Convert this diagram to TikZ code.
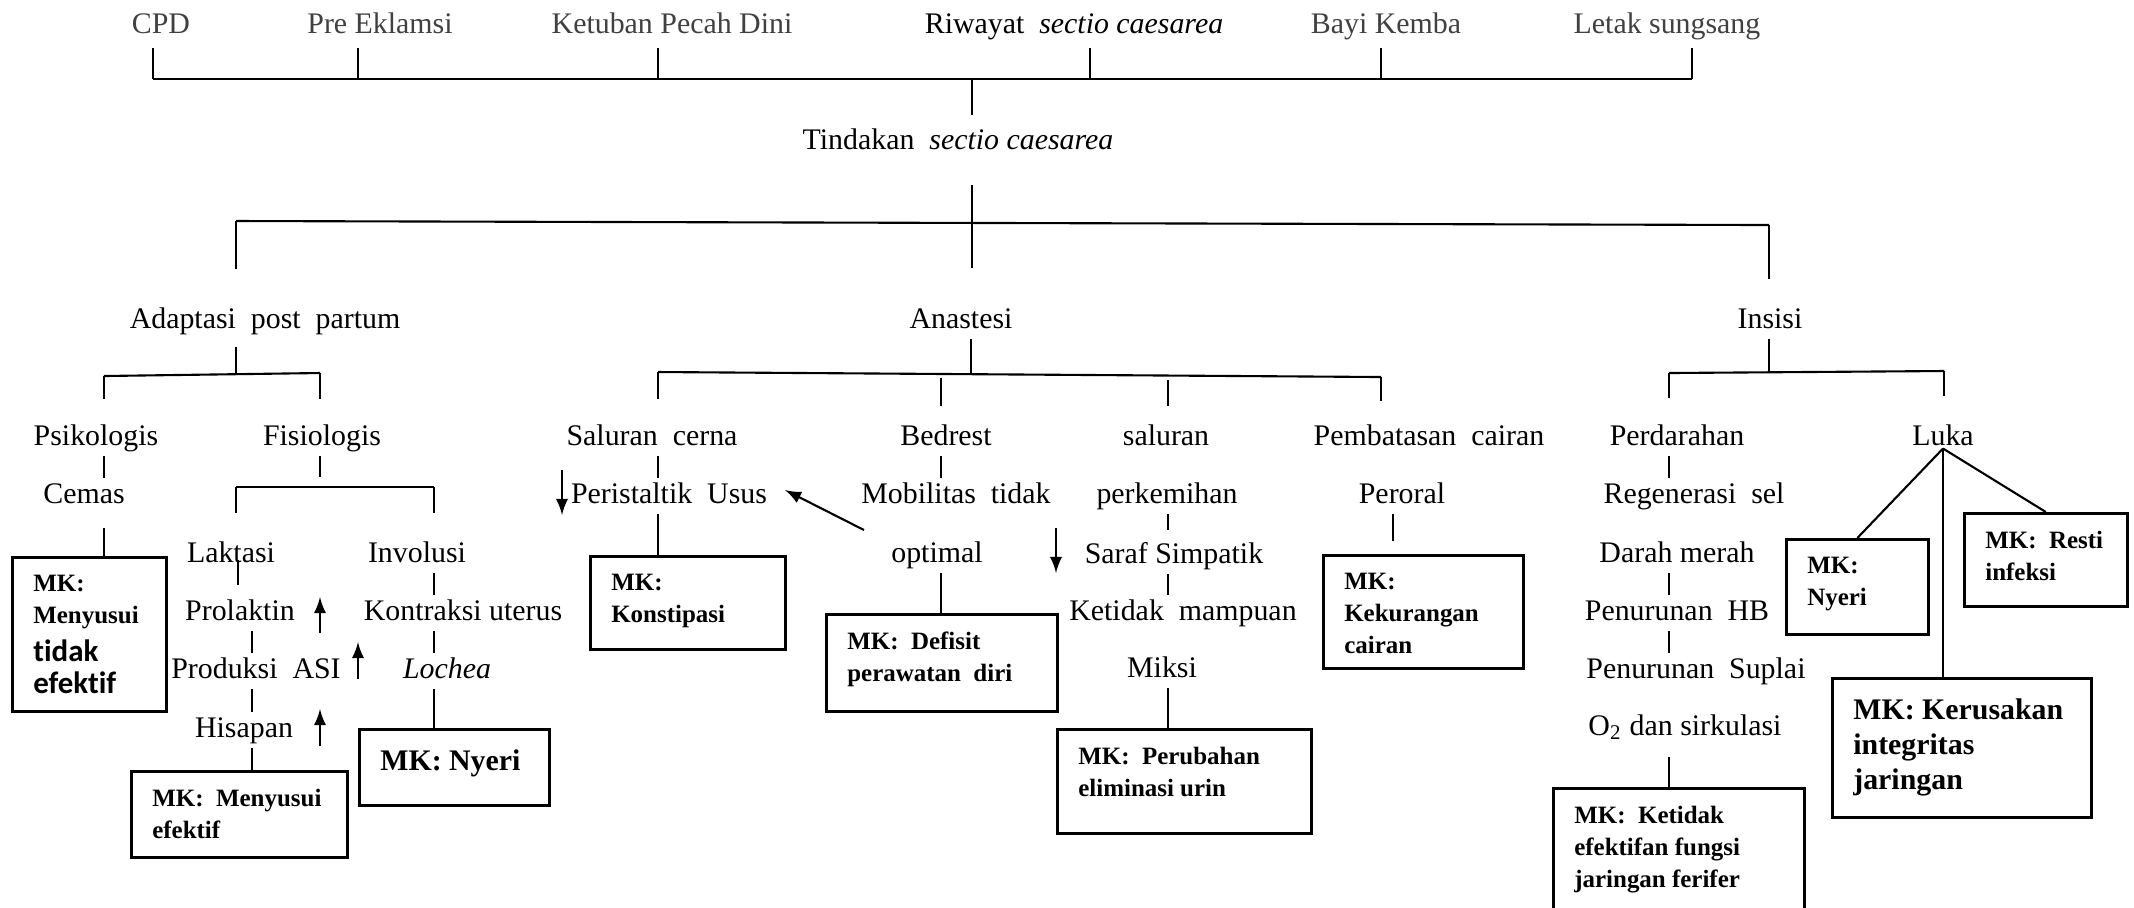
\documentclass[tikz,border=0pt]{standalone}
\usepackage{fontspec}
\setmainfont{Liberation Serif}
\newfontfamily\calfont{Carlito}[Ligatures=NoCommon]
\usepackage{tikz}
\tikzset{>=latex}
\usepackage{xcolor}
\colorlet{topcol}{black!75}
\tikzstyle{lbl}=[inner sep=1pt,text height=6pt,text depth=2pt,anchor=base,font=\fontsize{8.5}{10}\selectfont]
\tikzstyle{mk}=[draw,line width=0.75pt,inner xsep=2.1mm,inner ysep=1.8mm,anchor=north west,font=\fontsize{7.1}{9.1}\selectfont\bfseries]
\tikzstyle{mkbig}=[mk,inner ysep=2mm,font=\fontsize{8.5}{10}\selectfont\bfseries]
\tikzstyle{link}=[line width=0.6pt]
\tikzstyle{arr}=[->,line width=0.6pt]
\newcommand{\mktext}[3]{\parbox[t][#2][t]{#1}{#3}}

\begin{document}
\begin{tikzpicture}[x=0.1mm,y=-0.1mm]
  \path[use as bounding box] (0,0) rectangle (2134,907);
  \clip (0,0) rectangle (2134,907);

  % penyebab
  \node[lbl,topcol] (cpd) at (161,33) {CPD};
  \node[lbl,topcol] (pre) at (380,33) {Pre Eklamsi};
  \node[lbl,topcol] (kpd) at (672,33) {Ketuban Pecah Dini};
  \node[lbl] (riw) at (1074,33) {Riwayat~~\textit{sectio caesarea}};
  \node[lbl,topcol] (bayi) at (1386,33) {Bayi Kemba};
  \node[lbl,topcol] (letak) at (1667,33) {Letak sungsang};
  \coordinate (t1) at (153,79);
  \coordinate (t2) at (358,79);
  \coordinate (t3) at (658,79);
  \coordinate (t4) at (1090,79);
  \coordinate (t5) at (1381,79);
  \coordinate (t6) at (1692,79);
  \coordinate (t0) at (972,79);
  \draw[link] (t1) -- (t6);
  \foreach \tk/\nd in {t1/cpd,t2/pre,t3/kpd,t4/riw,t5/bayi,t6/letak}
    \draw[link,shorten <=0.4mm] (\tk |- \nd.south) -- (\tk);

  \node[lbl] (tin) at (958,149) {Tindakan~~\textit{sectio caesarea}};
  \draw[link,shorten >=0.9mm] (t0) -- (t0 |- tin.north);

  % cabang utama
  \coordinate (a1) at (236,221);
  \coordinate (a2) at (972,222);
  \coordinate (a3) at (1769,225);
  \node[lbl] (ada) at (265,328) {Adaptasi~~post~~partum};
  \node[lbl] (ana) at (961,328) {Anastesi};
  \node[lbl] (ins) at (1770,328) {Insisi};
  \draw[link] (a1) -- (a3);
  \draw[link,shorten <=2.5mm,shorten >=3.5mm] (a2 |- tin.south) -- (a2 |- ana.north);
  \draw[link,shorten >=3.4mm] (a1) -- (a1 |- ada.north);
  \draw[link,shorten >=2.4mm] (a3) -- (a3 |- ins.north);

  % adaptasi post partum
  \coordinate (b0) at (236,373);
  \coordinate (b1) at (104,376);
  \coordinate (b2) at (320,373);
  \draw[link,shorten <=0.8mm] (b0 |- ada.south) -- (b0);
  \draw[link] (b1) -- (b2);
  \node[lbl] (psi) at (96,445) {Psikologis};
  \node[lbl] (fis) at (322,445) {Fisiologis};
  \draw[link,shorten >=2.1mm] (b1) -- (b1 |- psi.north);
  \draw[link,shorten >=2.1mm] (b2) -- (b2 |- fis.north);
  \node[lbl] (cem) at (84,503) {Cemas};
  \node[mk] (mk1) at (11,556) {\mktext{11.2mm}{11.8mm}{MK:\\Menyusui\\[0.6mm]{\calfont\fontsize{8.8}{9.1}\selectfont tidak\\efektif}}};
  \draw[link] (b1 |- psi.south) -- (b1 |- cem.north);
  \draw[link,shorten <=1.4mm] (b1 |- cem.south) -- (b1 |- mk1.north);

  \coordinate (c0) at (320,487);
  \coordinate (c1) at (236,487);
  \coordinate (c2) at (434,487);
  \draw[link,shorten >=1mm] (c0 |- fis.south) -- (c0);
  \draw[link] (c1) -- (c2);
  \node[lbl] (lak) at (231,562) {Laktasi};
  \node[lbl] (inv) at (417,562) {Involusi};
  \draw[link,shorten >=2.4mm] (c1) -- (c1 |- lak.north);
  \draw[link,shorten >=2.4mm] (c2) -- (c2 |- inv.north);
  \node[lbl] (prol) at (240,620) {Prolaktin};
  \node[lbl] (prod) at (256,678) {Produksi~~ASI};
  \node[lbl] (his) at (244,737) {Hisapan};
  \node[mk] (mk2) at (130,770) {\mktext{17.4mm}{5mm}{MK:~~Menyusui\\efektif}};
  \coordinate (kLak) at (238,560);
  \coordinate (kPro) at (252,620);
  \draw[link,shorten >=1mm] (kLak) -- (kLak |- prol.north);
  \draw[link] (kPro |- prol.south) -- (kPro |- prod.north);
  \draw[link] (kPro |- prod.south) -- (kPro |- his.north);
  \draw[link] (kPro |- his.south) -- (kPro |- mk2.north);
  \coordinate (up1) at (320,633);
  \coordinate (up2) at (358,679);
  \coordinate (up3) at (320,746);
  \draw[arr] (up1) -- ++(0,-36);
  \draw[arr] (up2) -- ++(0,-37);
  \draw[arr] (up3) -- ++(0,-37);

  \node[lbl] (kon) at (463,620) {Kontraksi uterus};
  \node[lbl] (loc) at (447,678) {\textit{Lochea}};
  \node[mkbig] (mk3) at (358,728) {\mktext{14.8mm}{3.6mm}{MK:~Nyeri}};
  \coordinate (kInv) at (434,562);
  \draw[link] (kInv |- inv.south) -- (kInv |- kon.north);
  \draw[link] (kInv |- kon.south) -- (kInv |- loc.north);
  \draw[link] (kInv |- loc.south) -- (kInv |- mk3.north);

  % anastesi
  \coordinate (d0) at (971,374);
  \coordinate (d1) at (658,372);
  \coordinate (d2) at (941,374);
  \coordinate (d3) at (1168,376);
  \coordinate (d4) at (1381,377);
  \draw[link] (d0 |- ana.south) -- (d0);
  \draw[link] (d1) -- (d4);
  \node[lbl] (sal) at (652,445) {Saluran~~cerna};
  \node[lbl] (bed) at (946,445) {Bedrest};
  \node[lbl] (slr) at (1166,445) {saluran};
  \node[lbl] (pem) at (1429,445) {Pembatasan~~cairan};
  \draw[link,shorten >=2.1mm] (d1) -- (d1 |- sal.north);
  \draw[link,shorten <=0.4mm,shorten >=1.4mm] (d2) -- (d2 |- bed.north);
  \draw[link,shorten <=0.4mm,shorten >=1.4mm] (d3) -- (d3 |- slr.north);
  \draw[link,shorten >=1.9mm] (d4) -- (d4 |- pem.north);

  \node[lbl] (per) at (669,503) {Peristaltik~~Usus};
  \node[mk] (mk4) at (589,555) {\mktext{15.3mm}{5.7mm}{MK:\\Konstipasi}};
  \draw[link] (d1 |- sal.south) -- (d1 |- per.north);
  \draw[link] (d1 |- per.south) -- (d1 |- mk4.north);
  \coordinate (dn1) at (562,470);
  \draw[arr] (dn1) -- ++(0,45);

  \node[lbl] (mob) at (956,503) {Mobilitas~~tidak};
  \node[lbl] (opt) at (937,562) {optimal};
  \node[mk] (mk5) at (825,613) {\mktext{18.9mm}{6.1mm}{MK:~~Defisit\\perawatan~~diri}};
  \draw[link] (d2 |- bed.south) -- (d2 |- mob.north);
  \draw[link] (d2 |- opt.south) -- (d2 |- mk5.north);
  \coordinate (dgA) at (864,530);
  \coordinate (dgB) at (785,490);
  \draw[arr] (dgA) -- (dgB);

  \node[lbl] (prk) at (1167,503) {perkemihan};
  \node[lbl] (sar) at (1174,563) {Saraf Simpatik};
  \node[lbl] (ket) at (1183,620) {Ketidak~~mampuan};
  \node[lbl] (mik) at (1162,677) {Miksi};
  \node[mk] (mk6) at (1056,728) {\mktext{21.2mm}{6.8mm}{MK:~~Perubahan\\eliminasi urin}};
  \draw[link,shorten >=0.8mm] (d3 |- prk.south) -- (d3 |- sar.north);
  \draw[link] (d3 |- sar.south) -- (d3 |- ket.north);
  \draw[link] (d3 |- mik.south) -- (d3 |- mk6.north);
  \coordinate (dn2) at (1056,528);
  \draw[arr] (dn2) -- ++(0,45);

  \node[lbl] (pro) at (1402,503) {Peroral};
  \node[mk] (mk7) at (1322,554) {\mktext{15.8mm}{7.7mm}{MK:\\Kekurangan\\cairan}};
  \coordinate (d5) at (1393,503);
  \draw[link,shorten >=1.3mm] (d5 |- pro.south) -- (d5 |- mk7.north);

  % insisi
  \coordinate (e0) at (1769,372);
  \coordinate (e1) at (1669,373);
  \coordinate (e2) at (1944,371);
  \draw[link] (e0 |- ins.south) -- (e0);
  \draw[link] (e1) -- (e2);
  \node[lbl] (prd) at (1677,445) {Perdarahan};
  \node[lbl] (luk) at (1943,445) {Luka};
  \draw[link,shorten >=2.2mm] (e1) -- (e1 |- prd.north);
  \draw[link,shorten >=2.4mm] (e2) -- (e2 |- luk.north);

  \node[lbl] (reg) at (1694,503) {Regenerasi~~sel};
  \node[lbl] (drh) at (1677,562) {Darah merah};
  \node[lbl] (hb) at (1677,620) {Penurunan~~HB};
  \node[lbl] (sup) at (1696,678) {Penurunan~~Suplai};
  \node[lbl] (oks) at (1685,735) {O\textsubscript{2} dan sirkulasi};
  \node[mk] (mk8) at (1552,787) {\mktext{20.9mm}{10.4mm}{MK:~~Ketidak\\efektifan fungsi\\jaringan ferifer}};
  \draw[link] (e1 |- prd.south) -- (e1 |- reg.north);
  \draw[link] (e1 |- drh.south) -- (e1 |- hb.north);
  \draw[link] (e1 |- hb.south) -- (e1 |- sup.north);
  \draw[link,shorten <=1.1mm] (e1 |- oks.south) -- (e1 |- mk8.north);

  \node[mk] (mk9) at (1785,538) {\mktext{10mm}{5.9mm}{MK:\\Nyeri}};
  \node[mk] (mk10) at (1963,512) {\mktext{12.1mm}{5.7mm}{MK:~~Resti\\infeksi}};
  \node[mkbig] (mk11) at (1831,677) {\mktext{21.7mm}{9.9mm}{MK:~Kerusakan\\integritas\\jaringan}};
  \coordinate (lk) at ([yshift=-1pt]luk.base);
  \draw[link] (lk) -- (mk9.north);
  \draw[link] (lk) -- (mk10.north);
  \draw[link] (lk) -- (lk |- mk11.north);
\end{tikzpicture}
\end{document}
